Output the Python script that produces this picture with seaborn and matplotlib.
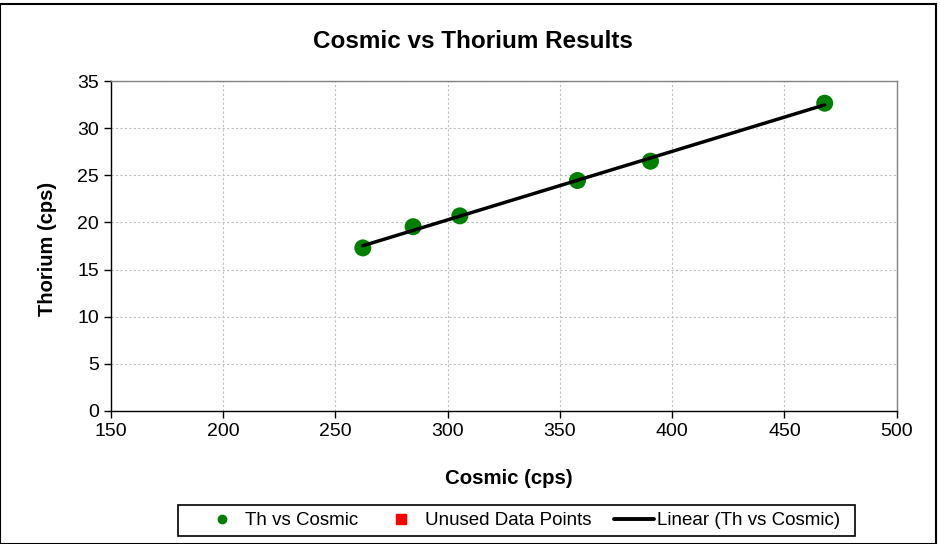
import numpy as np
import pandas as pd
import matplotlib
matplotlib.use("Agg")
import matplotlib.pyplot as plt
import seaborn as sns
from matplotlib.lines import Line2D
from matplotlib.patches import Rectangle

cosmic = [262.2, 284.6, 305.4, 357.8, 390.3, 467.9]
thorium = [17.3, 19.55, 20.7, 24.45, 26.5, 32.65]
x_ticks = [150, 200, 250, 300, 350, 400, 450, 500]
y_ticks = [0, 5, 10, 15, 20, 25, 30, 35]

sns.set_theme(style="white")
plt.rcParams['font.family'] = ['Liberation Sans', 'DejaVu Sans']
plt.rcParams['text.color'] = 'black'
plt.rcParams['axes.labelcolor'] = 'black'

df = pd.DataFrame({"Cosmic": cosmic, "Thorium": thorium})

fig = plt.figure(figsize=(9.4, 5.44), dpi=100)
ax = fig.add_axes([0.118, 0.2445, 0.836, 0.6065])

slope, intercept = np.polyfit(df["Cosmic"], df["Thorium"], 1)
xl = np.array([df["Cosmic"].min(), df["Cosmic"].max()])
sns.scatterplot(data=df, x="Cosmic", y="Thorium", ax=ax, color="#008000",
                s=150, edgecolor="none", zorder=3)
ax.plot(xl, slope * xl + intercept, color="black", lw=2.5, zorder=4)

ax.set_xlim(150, 500)
ax.set_ylim(0, 35)
ax.set_xticks(x_ticks)
ax.set_yticks(y_ticks)
ax.grid(True, color="#c0c0c0", linestyle=(0, (2, 2)), lw=0.8)
ax.tick_params(axis="both", direction="out", length=5, width=1, color="black",
               labelsize=14, labelcolor="black", bottom=True, left=True)
for s in ["left", "bottom"]:
    ax.spines[s].set_color("black")
    ax.spines[s].set_linewidth(1)
for s in ["top", "right"]:
    ax.spines[s].set_color("#808080")
    ax.spines[s].set_linewidth(1)

ax.set_xlabel("Cosmic (cps)", fontsize=14.7, fontweight="bold", labelpad=21)
ax.xaxis.label.set_x(0.506)
ax.set_ylabel("Thorium (cps)", fontsize=14.5, fontweight="bold", labelpad=15)
ax.yaxis.label.set_y(0.492)
fig.text(0.503, 1 - 42 / 544, "Cosmic vs Thorium Results", fontsize=17.5,
         fontweight="bold", ha="center", va="center", color="black")

handles = [
    Line2D([], [], marker="o", color="#008000", linestyle="none", markersize=6),
    Line2D([], [], marker="s", color="#ff0000", linestyle="none", markersize=6.5),
    Line2D([], [], color="black", lw=2.8),
]
labels = ["Th vs Cosmic", "Unused Data Points", "Linear (Th vs Cosmic)"]
leg = fig.legend(handles, labels, loc="center", bbox_to_anchor=(521 / 940, 1 - 520.5 / 544),
                 ncol=3, frameon=False, fontsize=13.5, handlelength=2.13,
                 columnspacing=1.2, handletextpad=0.2, borderpad=0.0)

fig.add_artist(Rectangle((178 / 940, 1 - 536 / 544), 677 / 940, 31 / 544,
                         transform=fig.transFigure, fill=False,
                         edgecolor="black", lw=1.2))

fig.add_artist(Rectangle((0.0, 0.0), 0.996, 0.992, transform=fig.transFigure,
                         fill=False, edgecolor="black", lw=1.5))

fig.savefig("out.png", dpi=100)
